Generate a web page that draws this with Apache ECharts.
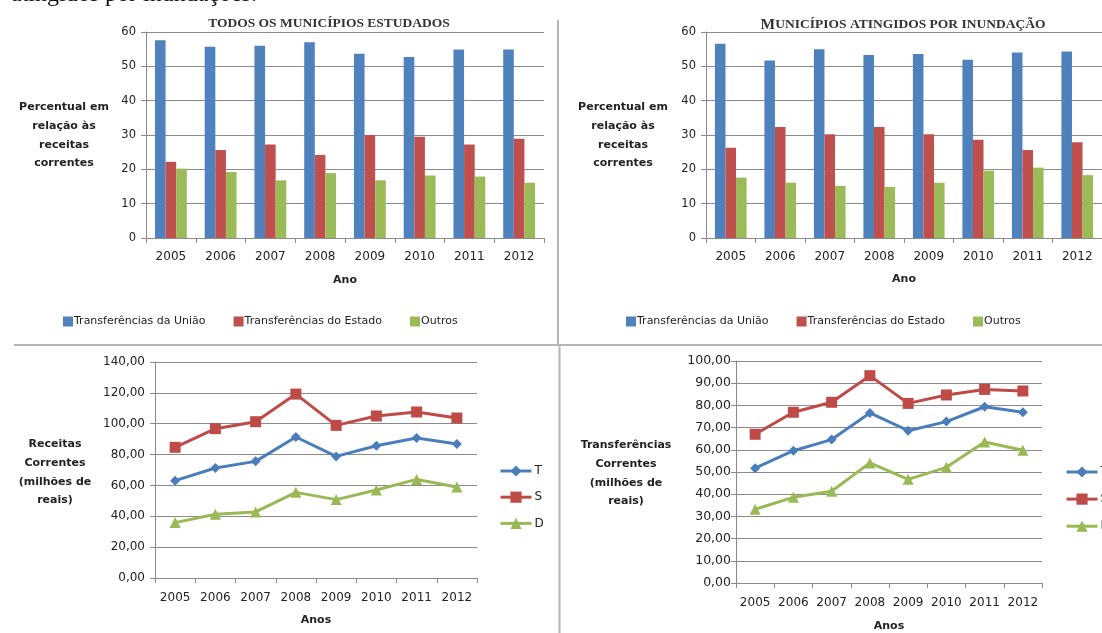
<!DOCTYPE html>
<html>
<head>
<meta charset="utf-8"/>
<title>Receitas correntes</title>
<script src="https://cdn.jsdelivr.net/npm/echarts@6/dist/echarts.min.js"></script>
<style>
  html, body { margin: 0; padding: 0; background: #fff; }
</style>
</head>
<body>
<div id="main" style="width:1102px;height:633px;"></div>
<script type="text/javascript">
// anos (eixo das categorias, comum aos 4 graficos)
var years = ['2005', '2006', '2007', '2008', '2009', '2010', '2011', '2012'];

// percentual em relacao as receitas correntes - todos os municipios
var todosUniao  = [57.6, 55.7, 56.0, 57.0, 53.7, 52.7, 54.9, 54.9];
var todosEstado = [22.2, 25.6, 27.2, 24.2, 30.0, 29.5, 27.2, 28.9];
var todosOutros = [20.2, 19.2, 16.8, 18.9, 16.8, 18.2, 17.9, 16.1];

// percentual - municipios atingidos por inundacao
var inundUniao  = [56.6, 51.7, 55.0, 53.3, 53.6, 51.9, 54.0, 54.3];
var inundEstado = [26.3, 32.3, 30.2, 32.3, 30.2, 28.6, 25.6, 27.9];
var inundOutros = [17.6, 16.1, 15.2, 14.9, 16.1, 19.6, 20.5, 18.3];

// receitas correntes (milhoes de reais)
var receitasT = [63.1, 71.3, 75.6, 91.4, 78.8, 85.7, 90.7, 86.8];
var receitasS = [84.7, 96.8, 101.3, 119.2, 98.9, 105.0, 107.6, 103.7];
var receitasD = [35.9, 41.3, 42.8, 55.5, 50.8, 57.0, 63.9, 59.0];

// transferencias correntes (milhoes de reais)
var transfT = [51.7, 59.6, 64.6, 76.6, 68.6, 72.7, 79.4, 76.9];
var transfS = [67.0, 76.9, 81.4, 93.4, 80.9, 84.7, 87.2, 86.5];
var transfD = [33.2, 38.6, 41.3, 54.1, 46.7, 52.1, 63.5, 59.8];

var barNames = ['Transferências da União', 'Transferências do Estado', 'Outros'];
var lineNames = ['T', 'S', 'D'];

var FONT = '"DejaVu Sans", "Open Sans", sans-serif';
var GRID_COLOR = '#8a8a8a';
var barColors = ['#4f81bd', '#c0504d', '#9bbb59'];
var lineColors = ['#4a7ebb', '#be4b48', '#98b954'];

function comma(v) {
    return v.toFixed(2).replace('.', ',');
}

function catAxis(gridIndex, name, labelMargin, nameGap, fontSize) {
    return {
        type: 'category',
        gridIndex: gridIndex,
        data: years,
        name: name,
        nameLocation: 'middle',
        nameGap: nameGap,
        nameTextStyle: { fontFamily: FONT, fontWeight: 'bold', fontSize: 11, color: '#222' },
        axisLine: { show: true, lineStyle: { color: GRID_COLOR, width: 1 } },
        axisTick: { show: true, length: 5, lineStyle: { color: GRID_COLOR } },
        axisLabel: { interval: 0, hideOverlap: false, margin: labelMargin, fontFamily: FONT, fontSize: fontSize, color: '#222' }
    };
}

function valAxis(gridIndex, max, interval, fmt, labelMargin, fontSize) {
    return {
        type: 'value',
        gridIndex: gridIndex,
        min: 0,
        max: max,
        interval: interval,
        axisLine: { show: true, lineStyle: { color: GRID_COLOR, width: 1 } },
        axisTick: { show: true, length: 5, lineStyle: { color: GRID_COLOR } },
        splitLine: { show: true, lineStyle: { color: GRID_COLOR, width: 1 } },
        axisLabel: { margin: labelMargin, fontFamily: FONT, fontSize: fontSize, color: '#222', formatter: fmt }
    };
}

function barSeries(name, idx, gridIdx, data) {
    return {
        name: name,
        type: 'bar',
        xAxisIndex: gridIdx,
        yAxisIndex: gridIdx,
        data: data,
        barGap: '0%',
        barCategoryGap: '36%',
        itemStyle: { color: barColors[idx] },
        animation: false
    };
}

var lineSymbols = ['diamond', 'rect', 'triangle'];
var lineSizes = [10, 11, 11];
function lineSeries(name, idx, gridIdx, data) {
    return {
        name: name,
        type: 'line',
        xAxisIndex: gridIdx,
        yAxisIndex: gridIdx,
        data: data,
        symbol: lineSymbols[idx],
        symbolSize: lineSizes[idx],
        showAllSymbol: true,
        lineStyle: { color: lineColors[idx], width: 3 },
        itemStyle: { color: lineColors[idx] },
        animation: false
    };
}

function yName(x, y, text) {
    return {
        type: 'text',
        x: x,
        y: y,
        style: {
            text: text,
            align: 'center',
            verticalAlign: 'top',
            lineHeight: 18.7,
            font: 'bold 11px ' + FONT,
            fill: '#222'
        }
    };
}

var legendText = { fontFamily: FONT, fontSize: 11, color: '#222', padding: [0, 0, 0, -4] };

var myChart = echarts.init(document.getElementById('main'));

var option = {
    backgroundColor: '#fff',
    animation: false,
    title: [{
        text: 'TODOS OS MUNICÍPIOS ESTUDADOS',
        left: 324, top: 12, textAlign: 'center',
        textStyle: { fontFamily: '"Liberation Serif", serif', fontWeight: 'bold', fontSize: 13.5, color: '#333' }
    }, {
        text: '{a|M}{b|UNICÍPIOS ATINGIDOS POR INUNDAÇÃO}',
        left: 898, top: 12, textAlign: 'center',
        textStyle: {
            rich: {
                a: { fontFamily: '"Liberation Serif", serif', fontWeight: 'bold', fontSize: 15.5, color: '#333' },
                b: { fontFamily: '"Liberation Serif", serif', fontWeight: 'bold', fontSize: 13.5, color: '#333' }
            }
        }
    }],
    legend: [{
        data: barNames,
        left: 63, top: 316, padding: 0,
        itemWidth: 10, itemHeight: 10, itemGap: 28,
        icon: 'rect',
        textStyle: legendText
    }, {
        data: barNames.slice(),
        left: 626, top: 316, padding: 0,
        itemWidth: 10, itemHeight: 10, itemGap: 28,
        icon: 'rect',
        textStyle: legendText
    }, {
        data: lineNames,
        orient: 'vertical',
        left: 499, top: 465, padding: 0,
        itemWidth: 31, itemHeight: 14, itemGap: 14.2,
        lineStyle: { width: 3 },
        textStyle: { fontFamily: FONT, fontSize: 12, color: '#222', padding: [0, 0, 0, -2] }
    }, {
        data: lineNames.slice(),
        orient: 'vertical',
        left: 1065, top: 466, padding: 0,
        itemWidth: 31, itemHeight: 14, itemGap: 15.1,
        lineStyle: { width: 3 },
        textStyle: { fontFamily: FONT, fontSize: 12, color: '#222', padding: [0, 0, 0, -2] }
    }],
    grid: [
        { left: 146, top: 32, width: 398, height: 206 },
        { left: 706, top: 32, width: 400, height: 206 },
        { left: 155, top: 362, width: 322, height: 216 },
        { left: 736, top: 361, width: 306, height: 222 }
    ],
    xAxis: [
        catAxis(0, 'Ano', 13, 37, 12),
        catAxis(1, 'Ano', 13, 36, 12),
        catAxis(2, 'Anos', 14, 37, 12),
        catAxis(3, 'Anos', 14, 38, 12)
    ],
    yAxis: [
        valAxis(0, 60, 10, null, 10, 11.5),
        valAxis(1, 60, 10, null, 10, 11.5),
        valAxis(2, 140, 20, comma, 10, 12),
        valAxis(3, 100, 10, comma, 5, 12.5)
    ],
    series: [
        barSeries(barNames[0], 0, 0, todosUniao),
        barSeries(barNames[1], 1, 0, todosEstado),
        barSeries(barNames[2], 2, 0, todosOutros),
        barSeries(barNames[0], 0, 1, inundUniao),
        barSeries(barNames[1], 1, 1, inundEstado),
        barSeries(barNames[2], 2, 1, inundOutros),
        lineSeries(lineNames[0], 0, 2, receitasT),
        lineSeries(lineNames[1], 1, 2, receitasS),
        lineSeries(lineNames[2], 2, 2, receitasD),
        lineSeries(lineNames[0], 0, 3, transfT),
        lineSeries(lineNames[1], 1, 3, transfS),
        lineSeries(lineNames[2], 2, 3, transfD)
    ],
    graphic: [
        // texto do documento, cortado no topo
        {
            type: 'text', x: 11, y: -17,
            style: { text: 'atingidos por inundações.', font: '24px "Liberation Serif", serif', fill: '#111', verticalAlign: 'top' }
        },
        // separadores entre os quadros
        { type: 'line', shape: { x1: 558, y1: 20, x2: 558, y2: 345 }, style: { stroke: '#b5b5b5', lineWidth: 2 } },
        { type: 'line', shape: { x1: 14, y1: 345, x2: 1102, y2: 345 }, style: { stroke: '#b5b5b5', lineWidth: 2 } },
        { type: 'line', shape: { x1: 559.5, y1: 345, x2: 559.5, y2: 633 }, style: { stroke: '#b5b5b5', lineWidth: 2 } },
        // titulos dos eixos verticais
        yName(64, 98, 'Percentual em\nrelação às\nreceitas\ncorrentes'),
        yName(623, 98, 'Percentual em\nrelação às\nreceitas\ncorrentes'),
        yName(55, 435, 'Receitas\nCorrentes\n(milhões de\nreais)'),
        yName(626, 436, 'Transferências\nCorrentes\n(milhões de\nreais)')
    ]
};

myChart.setOption(option);
</script>
</body>
</html>
